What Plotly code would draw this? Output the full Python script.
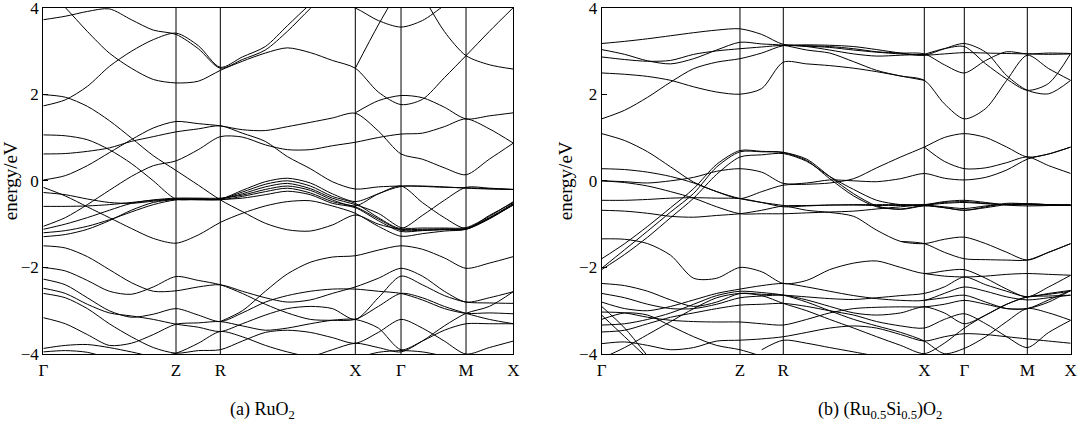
import plotly.graph_objects as go
from plotly.subplots import make_subplots

N = None

# ---- path (a) RuO2: k positions of sample points and high-symmetry points
k_a = [0, 22, 44, 66, 88, 110, 132.7, 155, 177, 199, 222, 244, 267, 289,
       312, 335, 357.7, 379, 401, 422.7, 446, 470]
hs_a = [0, 132.7, 177, 312, 357.7, 422.7, 470]

# ---- path (b) (Ru0.5Si0.5)O2
k_b = [0, 23, 46, 69, 92, 115, 138.3, 160, 181.6, 205, 228, 252, 275, 299,
       322.6, 342.6, 362.6, 384, 405, 425.6, 447, 469]
hs_b = [0, 138.3, 181.6, 322.6, 362.6, 425.6, 469]

hs_labels = ["Γ", "Z", "R", "X", "Γ", "M", "X"]
y_ticks = [-4, -2, 0, 2, 4]
y_labels = ["−4", "−2", "0", "2", "4"]

# bands of (a), eV at each k_a point (None = outside the window)
bands_a = [
    [3.72, 3.80, 3.91, 3.97, 3.72, 3.48, 3.38, 3.05, 2.60, 2.80, 3.02, 3.45, 3.98, 4.45, N, N, N, N, N, N, N, N],
    [4.50, 4.00, 3.45, 2.95, 2.60, 2.34, 2.26, 2.30, 2.55, 2.76, 2.95, 3.07, 2.96, 2.78, 2.60, 2.05, 1.76, 1.88, 2.38, 2.89, 3.45, 4.00],
    [1.73, 1.87, 2.18, 2.64, 2.99, 3.26, 3.41, 3.12, 2.62, 2.86, 3.10, 3.58, 4.08, 4.50, N, N, N, N, N, N, N, N],
    [N, N, N, N, N, N, N, N, N, N, N, N, N, 4.15, 3.99, 3.70, 3.55, 3.70, 4.05, 4.40, N, N],
    [N, N, N, N, N, N, N, N, N, N, N, N, N, N, 2.60, 3.60, 4.50, N, N, N, N, N],
    [N, N, N, N, N, N, N, N, N, N, N, N, N, N, N, N, N, 4.30, 3.45, 2.89, 2.68, 2.58],
    [1.99, 1.93, 1.72, 1.39, 0.99, 0.58, 0.24, -0.10, -0.44, -0.71, -0.98, -1.13, -1.16, -1.02, -0.79, -1.00, -1.12, -1.12, -1.11, -1.10, -0.85, -0.52],
    [0.02, 0.12, 0.35, 0.65, 0.95, 1.22, 1.37, 1.32, 1.27, 1.18, 1.16, 1.25, 1.35, 1.45, 1.56, 1.15, 0.62, 0.50, 0.30, 0.14, 0.50, 0.87],
    [0.62, 0.63, 0.68, 0.76, 0.91, 1.02, 1.13, 1.20, 1.27, 1.10, 0.91, 0.56, 0.28, -0.02, -0.19, -0.14, -0.12, -0.12, -0.14, -0.17, -0.19, -0.20],
    [-1.05, -0.85, -0.55, -0.22, 0.10, 0.35, 0.46, 0.72, 1.02, 1.01, 0.83, 0.72, 0.72, 0.81, 0.89, 1.00, 1.08, 1.10, 1.25, 1.43, 1.20, 0.87],
    [N, N, N, N, N, N, N, N, N, N, N, N, N, N, 1.57, 1.85, 1.97, 1.92, 1.70, 1.43, 1.50, 1.57],
    [1.06, 1.04, 0.95, 0.72, 0.40, 0.00, -0.42, -0.42, -0.42, -0.22, -0.02, 0.06, -0.05, -0.30, -0.48, -0.30, -0.12, -0.50, -0.85, -1.10, -0.80, -0.50],
    [-0.59, -0.59, -0.58, -0.55, -0.50, -0.45, -0.42, -0.42, -0.42, -0.26, -0.08, 0.00, -0.12, -0.36, -0.52, -0.85, -1.10, -0.80, -0.45, -0.15, -0.17, -0.20],
    [-0.27, -0.32, -0.42, -0.50, -0.52, -0.47, -0.42, -0.42, -0.42, -0.30, -0.14, -0.06, -0.18, -0.40, -0.55, -0.75, -1.08, -1.09, -1.09, -1.08, -0.82, -0.48],
    [-1.12, -1.00, -0.85, -0.68, -0.52, -0.44, -0.40, -0.40, -0.40, -0.33, -0.20, -0.12, -0.22, -0.44, -0.58, -0.30, -0.13, -0.13, -0.15, -0.16, -0.18, -0.20],
    [-0.15, -0.35, -0.60, -0.85, -1.10, -1.33, -1.44, -1.25, -0.96, -0.75, -0.58, -0.48, -0.46, -0.58, -0.75, -1.05, -1.28, -1.22, -1.16, -1.12, -0.88, -0.55],
    [-1.20, -1.15, -1.05, -0.90, -0.72, -0.55, -0.44, -0.44, -0.44, -0.36, -0.25, -0.17, -0.28, -0.48, -0.60, -0.88, -1.14, -1.14, -1.12, -1.11, -0.86, -0.56],
    [-1.29, -1.24, -1.12, -0.92, -0.68, -0.50, -0.43, -0.43, -0.43, -0.40, -0.32, -0.24, -0.32, -0.52, -0.62, -0.92, -1.17, -1.15, -1.13, -1.12, -0.87, -0.54],
    [-1.50, -1.55, -1.75, -2.05, -2.35, -2.55, -2.54, -2.45, -2.40, -2.55, -2.70, -2.80, -2.75, -2.60, -2.45, -2.25, -2.02, -2.20, -2.55, -2.80, -2.70, -2.56],
    [-2.00, -2.08, -2.30, -2.55, -2.62, -2.45, -2.21, -2.30, -2.40, -2.60, -2.85, -3.05, -3.20, -3.22, -3.20, -2.90, -2.60, -2.70, -2.90, -3.06, -3.20, -3.30],
    [N, N, N, N, N, N, N, N, -3.25, -3.00, -2.55, -2.15, -1.88, -1.76, -1.73, -1.60, -1.50, -1.58, -1.78, -2.02, -1.90, -1.75],
    [-2.27, -2.40, -2.70, -3.00, -3.15, -3.08, -2.95, -3.10, -3.25, -3.05, -2.80, -2.65, -2.55, -2.50, -2.50, -2.55, -2.60, -2.75, -2.95, -3.06, -3.05, -3.07],
    [-2.48, -2.60, -2.85, -3.05, -3.12, -3.20, -3.31, -3.38, -3.48, -3.30, -3.10, -2.95, -2.90, -2.95, -3.20, -2.70, -2.20, -2.40, -2.65, -2.80, -2.82, -2.83],
    [-2.60, -2.70, -2.95, -3.30, -3.60, -3.85, -3.98, -3.92, -3.90, -3.70, -3.50, -3.45, -3.50, -3.62, -3.75, -3.50, -3.20, -3.40, -3.70, -4.00, -3.85, -3.70],
    [-3.16, -3.30, -3.55, -3.80, -3.75, -3.55, -3.31, -3.28, -3.25, -3.35, -3.45, -3.40, -3.30, -3.22, -3.20, -3.40, -3.90, -3.70, -3.45, -3.30, -3.30, -3.30],
    [-3.87, -3.80, -3.78, -3.85, -3.95, -4.05, -3.98, -3.75, -3.48, -3.60, -3.80, -3.95, -4.05, -3.90, -3.75, -3.85, -3.95, -3.70, -3.35, -3.06, -2.90, -2.56],
    [-3.95, -3.92, -3.96, -4.10, N, N, N, N, N, N, N, N, N, N, -4.10, -3.96, -3.92, -3.95, -4.05, N, N, N],
]

# bands of (b), eV at each k_b point
bands_b = [
    [3.17, 3.22, 3.28, 3.35, 3.42, 3.48, 3.51, 3.38, 3.15, 3.14, 3.13, 3.10, 3.03, 2.95, 2.90, 3.05, 3.17, 2.97, 2.43, 2.09, 2.01, 2.32],
    [3.03, 2.92, 2.77, 2.70, 2.82, 3.02, 3.20, 3.16, 3.13, 3.02, 2.95, 2.75, 2.55, 2.42, 2.32, 1.78, 1.43, 1.67, 2.32, 2.90, 2.59, 2.32],
    [2.86, 2.80, 2.76, 2.78, 2.92, 3.00, 3.05, 3.09, 3.13, 3.12, 3.10, 3.05, 2.98, 2.95, 2.93, 2.68, 2.49, 2.78, 2.98, 2.93, 2.95, 2.94],
    [N, N, N, N, N, N, N, N, 3.13, 3.11, 3.08, 3.02, 2.97, 2.93, 2.90, 2.93, 2.96, 2.95, 2.94, 2.93, 2.92, 2.93],
    [2.49, 2.46, 2.41, 2.32, 2.17, 2.05, 2.00, 2.13, 2.74, 2.70, 2.66, 2.60, 2.52, 2.42, 2.32, N, N, N, N, N, N, N],
    [1.43, 1.63, 1.93, 2.28, 2.59, 2.74, 2.82, 2.95, 3.12, 3.10, 3.02, 2.93, 2.88, 2.90, 2.92, N, N, N, N, N, N, N],
    [N, N, N, N, N, N, N, N, N, N, N, N, N, N, 2.92, 3.05, 3.10, 2.70, 2.35, 2.09, 2.25, 2.94],
    [1.09, 0.93, 0.67, 0.32, -0.03, -0.25, -0.41, -0.50, -0.57, -0.68, -0.73, -0.82, -1.14, -1.40, -1.45, -1.35, -1.30, -1.45, -1.65, -1.83, -1.65, -1.45],
    [0.28, 0.26, 0.20, 0.10, -0.05, -0.25, -0.41, -0.25, -0.10, -0.08, -0.05, 0.05, 0.30, 0.55, 0.78, 1.00, 1.09, 1.00, 0.78, 0.55, 0.62, 0.78],
    [N, N, N, N, N, N, N, N, N, N, N, N, N, N, 0.78, 0.45, 0.28, 0.30, 0.42, 0.55, 0.35, 0.17],
    [0.00, -0.02, -0.05, 0.00, 0.08, 0.22, 0.28, 0.20, -0.06, -0.05, 0.02, 0.00, -0.02, 0.05, 0.17, 0.06, 0.02, 0.08, 0.25, 0.50, 0.62, 0.78],
    [0.00, -0.04, -0.12, -0.25, -0.40, -0.60, -0.76, -0.76, -0.76, -0.74, -0.72, -0.70, -0.65, -0.60, -0.56, -0.62, -0.68, -0.62, -0.55, -0.53, -0.55, -0.57],
    [-0.45, -0.45, -0.43, -0.40, -0.39, -0.40, -0.41, -0.50, -0.60, -0.58, -0.56, -0.55, -0.55, -0.55, -0.55, -0.48, -0.45, -0.50, -0.56, -0.58, -0.57, -0.55],
    [-0.68, -0.70, -0.75, -0.82, -0.84, -0.80, -0.76, -0.68, -0.58, -0.57, -0.56, -0.56, -0.57, -0.57, -0.56, -0.52, -0.50, -0.53, -0.55, -0.55, -0.56, -0.56],
    [-2.02, -1.59, -1.16, -0.72, -0.29, 0.32, 0.67, 0.67, 0.65, 0.47, 0.05, -0.35, -0.60, -0.65, -0.56, -0.50, -0.48, -0.52, -0.55, -0.55, -0.56, -0.57],
    [-1.80, -1.45, -1.05, -0.62, -0.18, 0.38, 0.70, 0.68, 0.66, 0.50, 0.10, -0.30, -0.58, -0.66, -0.58, -0.62, -0.68, -0.60, -0.52, -0.53, -0.55, -0.57],
    [-2.05, -1.70, -1.30, -0.85, -0.40, 0.15, 0.55, 0.60, 0.63, 0.45, 0.10, -0.20, -0.45, -0.55, -0.56, -0.60, -0.64, -0.58, -0.54, -0.54, -0.55, -0.56],
    [-1.34, -1.35, -1.45, -1.72, -2.25, -2.25, -2.00, -2.10, -2.37, -2.30, -2.05, -1.90, -1.85, -2.00, -2.14, -2.08, -2.05, -2.25, -2.50, -2.68, -2.45, -2.18],
    [N, N, N, N, N, N, N, N, N, N, N, N, N, -1.40, -1.45, -1.65, -1.80, -1.82, -1.83, -1.83, -1.65, -1.45],
    [N, N, N, N, N, N, N, N, N, N, N, N, N, N, -2.14, -2.20, -2.22, -2.20, -2.16, -2.14, -2.16, -2.18],
    [-2.37, -2.42, -2.55, -2.75, -2.90, -2.80, -2.60, -2.62, -2.64, -2.68, -2.72, -2.74, -2.70, -2.65, -2.60, -2.45, -2.22, -2.40, -2.55, -2.68, -2.60, -2.53],
    [-2.80, -2.95, -3.00, -2.90, -2.75, -2.60, -2.50, -2.42, -2.37, -2.45, -2.55, -2.65, -2.72, -2.76, -2.76, -2.60, -2.45, -2.55, -2.68, -2.75, -2.70, -2.64],
    [-3.03, -3.05, -3.15, -3.22, -3.25, -3.26, -3.26, -3.30, -3.33, -3.20, -3.05, -2.95, -2.92, -2.91, -2.91, -2.85, -2.76, -2.85, -2.95, -2.95, -2.80, -2.53],
    [-3.33, -3.30, -3.20, -3.05, -2.85, -2.65, -2.55, -2.58, -2.64, -2.80, -3.00, -3.20, -3.35, -3.50, -3.70, -3.99, -3.87, -3.60, -3.25, -2.95, -3.05, -3.22],
    [-3.49, -3.45, -3.30, -3.15, -3.05, -2.95, -2.87, -2.85, -2.83, -2.90, -3.00, -3.10, -3.25, -3.35, -3.40, -3.20, -3.07, -3.30, -3.60, -3.85, -3.50, -3.22],
    [-3.76, -3.72, -3.80, -3.90, -3.85, -3.70, -3.68, -3.65, -3.60, -3.50, -3.40, -3.35, -3.40, -3.55, -3.70, -3.60, -3.53, -3.55, -3.60, -3.65, -3.70, -3.75],
    [-4.10, -3.85, -3.55, -3.25, -2.95, -2.70, -2.60, -2.65, -2.83, -3.00, -3.20, -3.40, -3.60, -3.80, -3.99, -3.75, -3.40, -3.10, -2.85, -2.68, -2.66, -2.64],
    [-2.90, -3.40, -4.05, N, N, N, N, N, N, N, N, N, N, N, -2.76, -2.70, -2.64, -2.80, -2.95, -2.95, -2.75, -2.53],
    [-3.10, -3.60, -4.10, N, N, N, N, -3.90, -3.68, -3.75, -3.85, -3.95, -4.05, N, N, N, N, N, N, N, N, N],
    [-3.20, -3.05, -3.10, -3.35, -3.60, -3.80, -3.90, -4.05, N, N, N, N, N, N, N, N, N, N, N, N, N, N],
    [-2.60, -2.70, -2.85, -2.95, -2.95, -2.85, -2.70, -2.66, -2.64, -2.75, -2.90, -3.05, -3.10, -3.05, -2.91, -3.05, -3.30, -3.10, -2.85, -2.68, -2.62, -2.55],
]

fig = make_subplots(rows=1, cols=2, horizontal_spacing=0.08)

for col, (k, bands) in enumerate([(k_a, bands_a), (k_b, bands_b)], start=1):
    for b in bands:
        fig.add_trace(go.Scatter(x=k, y=b, mode="lines", line=dict(color="black", width=1, shape="spline", smoothing=0.8),
                                 hoverinfo="skip", showlegend=False), row=1, col=col)

# vertical lines at the interior high-symmetry points
for col, hs in [(1, hs_a), (2, hs_b)]:
    for x in hs[1:-1]:
        fig.add_vline(x=x, line_color="black", line_width=1, row=1, col=col)

serif = "Liberation Serif"
axis_style = dict(showline=True, mirror=True, linecolor="black", linewidth=1.2, automargin=False,
                  showgrid=False, zeroline=False, ticklabeloverflow="allow",
                  tickfont=dict(family=serif, size=17, color="black"))

fig.update_xaxes(**axis_style, ticks="", tickmode="array", ticktext=hs_labels)
fig.update_xaxes(range=[0, hs_a[-1]], tickvals=hs_a, domain=[0.0401, 0.4753], row=1, col=1)
fig.update_xaxes(range=[0, hs_b[-1]], tickvals=hs_b, domain=[0.5571, 0.9914], row=1, col=2)
fig.update_yaxes(**axis_style, range=[-4, 4], tickmode="array", tickvals=y_ticks, ticktext=y_labels,
                 ticks="inside", ticklen=5, tickcolor="black", domain=[0.159, 0.982],
                 title=dict(text="energy/eV", font=dict(family=serif, size=19, color="black"), standoff=1))

# panel captions under each plot
caption_font = dict(family=serif, size=18, color="black")
fig.add_annotation(text="(a) RuO<sub>2</sub>", x=0.2426, y=0.026, xref="paper", yref="paper",
                   xanchor="center", yanchor="middle", showarrow=False, font=caption_font)
fig.add_annotation(text="(b) (Ru<sub>0.5</sub>Si<sub>0.5</sub>)O<sub>2</sub>", x=0.815, y=0.026,
                   xref="paper", yref="paper", xanchor="center", yanchor="middle",
                   showarrow=False, font=caption_font)

fig.update_layout(width=1080, height=421, margin=dict(l=0, r=0, t=0, b=0),
                  paper_bgcolor="white", plot_bgcolor="white")
# drop the browser's default 8 px body margin so the figure sits at the page corner
fig.write_html("out.html", config={"displayModeBar": False},
               post_script="document.body.style.margin='0px';")
